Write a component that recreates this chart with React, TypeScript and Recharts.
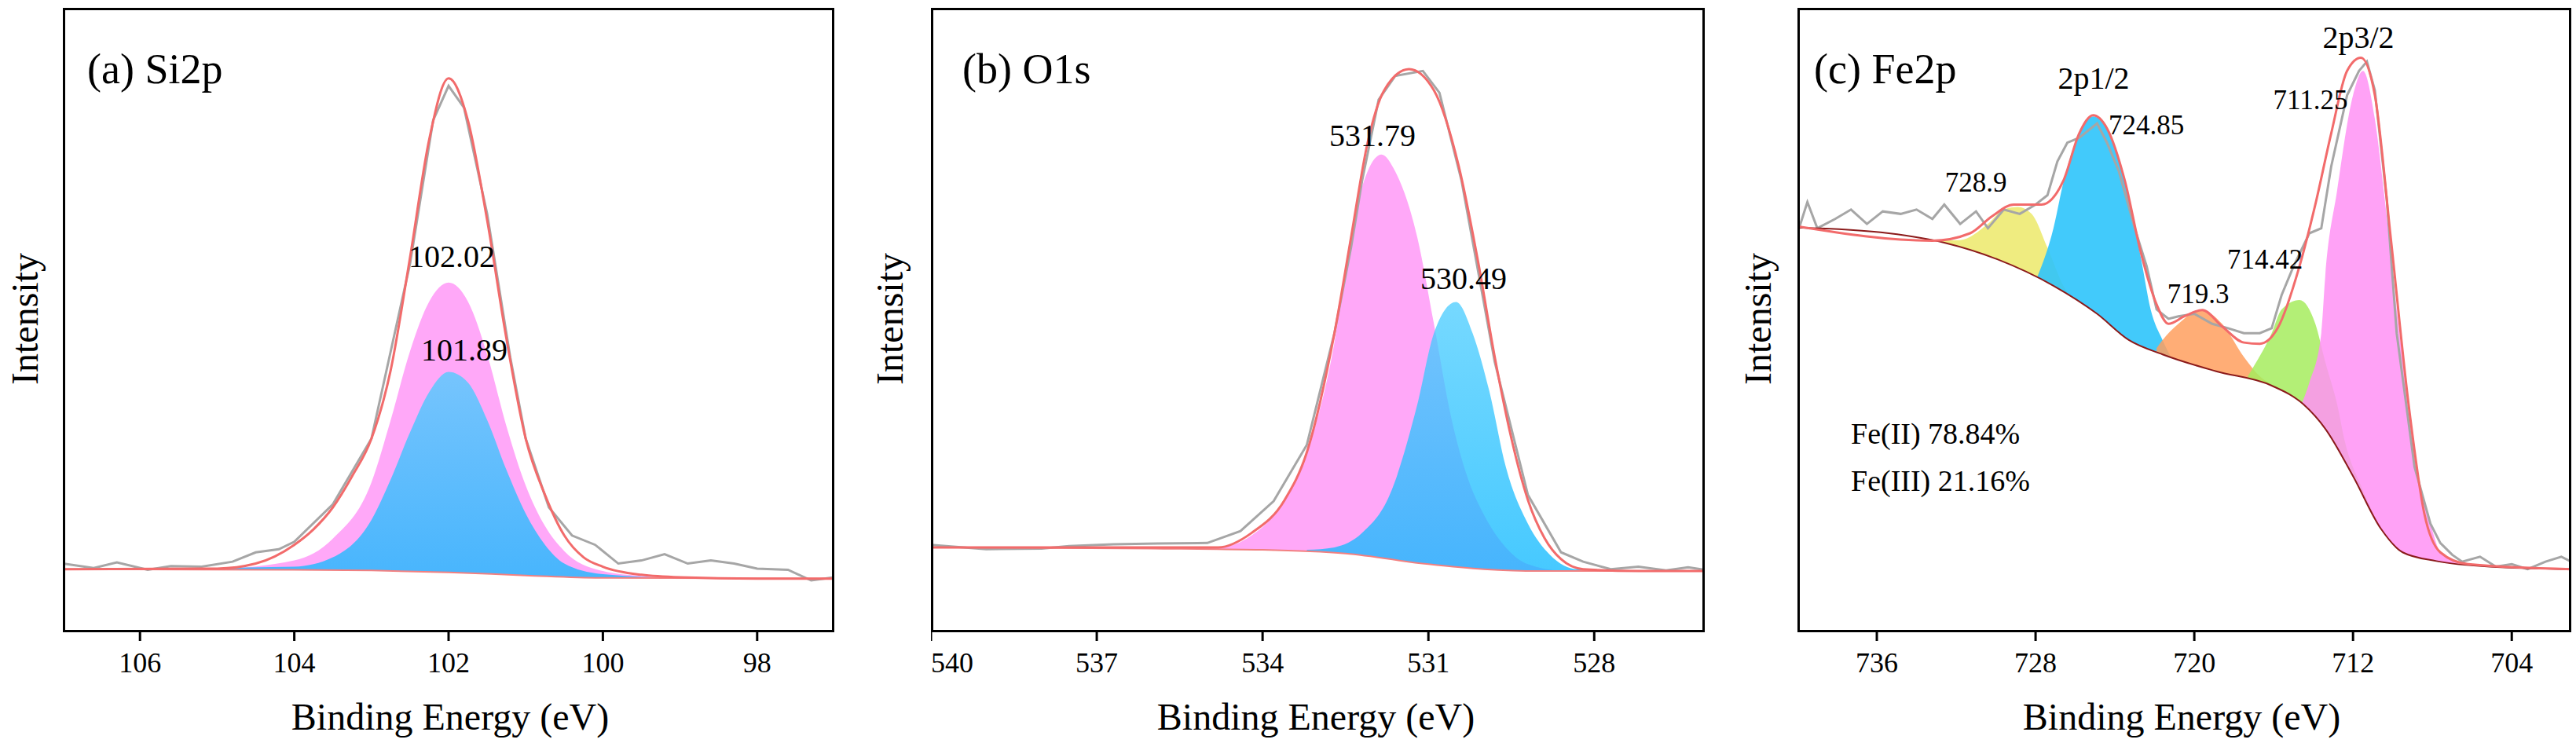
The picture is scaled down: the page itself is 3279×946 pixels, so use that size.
import { Area, ComposedChart, Line, XAxis, YAxis } from "recharts";

type Pt = { x: number; y: number };
const pts = (rows: number[][]): Pt[] => rows.map(([x, y]) => ({ x, y }));

// ---- (a) Si2p ----
const siBackground = pts([[107, 10.1], [104, 10.0], [103, 9.9], [102, 9.6], [101, 9.1], [100, 8.7], [97, 8.6]]);
const siEnvelope = pts([
  [107, 10.1], [105, 10.2], [104.5, 11], [104, 14], [103.75, 16.5], [103.5, 20], [103.25, 25], [103, 31],
  [102.75, 42], [102.5, 60], [102.25, 79], [102, 88.7], [101.75, 82], [101.5, 66], [101.25, 47], [101, 31],
  [100.75, 22], [100.5, 15.5], [100.25, 12], [100, 10.5], [99.5, 9.2], [99, 8.8], [98, 8.6], [97, 8.6],
]);
const siPink = pts([
  [107, 10.1], [105, 10.2], [104, 11.5], [103.5, 15], [103, 24], [102.75, 34], [102.5, 45], [102.25, 53],
  [102, 56], [101.75, 53], [101.5, 44.5], [101.25, 33], [101, 23.5], [100.75, 17], [100.5, 13], [100, 9.8],
  [99.5, 9], [99, 8.7], [97, 8.6],
]);
const siBlue = pts([
  [107, 10.1], [104, 10.5], [103.5, 12], [103, 18], [102.75, 24.5], [102.5, 32], [102.25, 38.5], [102, 41.7],
  [101.75, 40], [101.5, 34], [101.25, 26], [101, 19], [100.75, 14], [100.5, 11], [100, 9.3], [99, 8.7], [97, 8.6],
]);
const siRaw = pts([
  [107, 11.0], [106.6, 10.3], [106.3, 11.2], [105.9, 10.0], [105.6, 10.6], [105.2, 10.5], [104.8, 11.3],
  [104.5, 12.8], [104.2, 13.3], [104, 14.5], [103.5, 20.5], [103, 31], [102.5, 59], [102.2, 82], [102, 87.5],
  [101.8, 84], [101.5, 67], [101.2, 44], [101, 31], [100.7, 20], [100.4, 15.5], [100.1, 14], [99.8, 11],
  [99.5, 11.5], [99.2, 12.5], [98.9, 11], [98.6, 11.5], [98.3, 11], [98, 10.2], [97.6, 10], [97.3, 8.3], [97, 8.8],
]);
const siTicks = [98, 100, 102, 104, 106];

// ---- (b) O1s ----
const oBackground = pts([[540, 13.6], [536, 13.4], [534, 13.2], [532.5, 12.6], [531, 10.9], [530, 10.1], [529, 9.8], [526, 9.8]]);
const oEnvelope = pts([
  [540, 13.6], [534.8, 13.6], [534.2, 15.9], [533.6, 21.2], [533.2, 28.8], [532.7, 47.9], [532.4, 63.2],
  [532.1, 78.4], [531.8, 86.8], [531.35, 90.2], [530.9, 86.8], [530.45, 74.6], [530.1, 59.3], [529.8, 44.1],
  [529.5, 31.1], [529.2, 21.2], [528.9, 15.1], [528.6, 11.7], [528.2, 10.1], [527.2, 9.8], [526, 9.8],
]);
const oPink = pts([
  [540, 13.6], [534.8, 13.6], [534.2, 15.5], [533.6, 21.2], [533.2, 28.8], [532.7, 46.4], [532.4, 63.9],
  [532.1, 73.8], [531.85, 76.5], [531.6, 73.8], [531.2, 63.2], [530.9, 49.4], [530.6, 34.9], [530.3, 25],
  [530, 18.9], [529.6, 13.6], [529.2, 10.9], [528.6, 9.9], [526, 9.8],
]);
const oBlue = pts([
  [533.2, 13.2], [532.7, 13.6], [532.2, 15.9], [531.7, 22], [531.2, 36.5], [530.9, 47.9], [530.5, 52.9],
  [530.2, 47.9], [529.9, 38.7], [529.6, 26.5], [529.2, 17.4], [528.8, 12.4], [528.3, 10.1], [526, 9.8],
]);
const oRaw = pts([
  [540, 14], [539, 13.3], [538, 13.4], [537.5, 13.8], [536.7, 14.1], [535.9, 14.2], [535, 14.3], [534.4, 16.2],
  [533.8, 21], [533.2, 30], [532.7, 47.9], [532.4, 61.6], [532.2, 72.3], [531.9, 85.3], [531.6, 89.1],
  [531.1, 89.9], [530.8, 86.4], [530.4, 72.3], [529.8, 43.3], [529.2, 22], [528.6, 12.8], [528.2, 11.3],
  [527.7, 10.1], [527.2, 10.5], [526.7, 9.9], [526.3, 10.4], [526, 10],
]);
const oTicks = [528, 531, 534, 537, 540];

// ---- (c) Fe2p ----
const feBackground = pts([
  [740, 64.8], [735.4, 63.9], [732.6, 62.4], [729.9, 59.7], [727.1, 55.5], [724.9, 51], [723.3, 46.8],
  [721.6, 44.5], [718.9, 41.8], [716.1, 39.5], [714.5, 36.5], [713.4, 32.6], [712, 25], [710.6, 16.6],
  [709.5, 12.8], [707.8, 11.4], [705.1, 10.5], [701, 10.1],
]);
const feEnvelope = pts([
  [740, 65], [733.2, 62.7], [731.3, 63.9], [730.2, 66.6], [729.1, 68.5], [727.7, 68.5], [726.6, 72.3],
  [725.8, 79.9], [725.1, 82.8], [724.4, 80.7], [723.5, 72.3], [722.7, 60.9], [721.9, 52.5], [721.3, 49.4],
  [720.5, 50.6], [719.6, 51.6], [718.6, 49], [717.5, 46.4], [716.7, 46.2], [715.8, 48.7], [714.7, 58.6],
  [713.9, 68.5], [713.1, 79.9], [712.3, 89.9], [711.6, 92], [710.9, 86], [710.1, 63.2], [709.2, 36.5],
  [708.4, 18.9], [707.6, 12.8], [706.2, 10.9], [701, 10.1],
]);
const feYellow = pts([[733.2, 62.7], [731.8, 62.8], [730.4, 65.4], [729.6, 67.7], [728.9, 68.1], [728.2, 67], [727.4, 61.6], [726.6, 55.5], [725.3, 51.5]]);
const feBlue = pts([[727.9, 57], [727.1, 64.7], [726.6, 72], [726, 78.4], [725.1, 82.6], [724.4, 80.7], [723.5, 72.3], [722.7, 60.1], [722.2, 51.7], [721.6, 46.8], [721.2, 44.2]]);
const feOrange = pts([[721.9, 45.5], [721.6, 46.8], [720.8, 49.4], [719.7, 51.6], [718.6, 49.4], [717.5, 44.1], [716.7, 41], [716, 39.5]]);
const feGreen = pts([[717.3, 41], [717, 42.6], [716.1, 47.9], [715.6, 51.7], [714.7, 53.2], [713.9, 49.4], [713.4, 43.3], [712.8, 36.5], [712.4, 30.4], [711.6, 23.5], [710.6, 16.6]]);
const fePink = pts([
  [714.6, 36.5], [714.2, 40], [713.6, 47.9], [713.4, 57], [712.8, 70.8], [712, 86], [711.5, 89.9], [710.9, 82.2],
  [710.4, 69.3], [709.8, 51.7], [709.2, 36.5], [708.7, 25], [708.1, 17.4], [707.6, 12.8], [707.1, 11.7], [705, 10.5], [701, 10.1],
]);
const feRaw = pts([
  [740, 63.9], [739.5, 68.9], [739, 64.7], [738.1, 66.2], [737.3, 67.7], [736.5, 65.4], [735.7, 67.4], [734.8, 67],
  [734, 67.7], [733.2, 66.2], [732.6, 68.5], [731.8, 65.4], [731, 67.4], [730.4, 64.7], [729.6, 67.7], [728.8, 67],
  [728, 68.5], [727.4, 70], [726.9, 75.4], [726.4, 78.4], [725.8, 79.2], [724.9, 81.5], [724.4, 78.4], [723.8, 73.8],
  [723, 64.7], [722.4, 58.6], [721.9, 51.7], [721.3, 50.2], [720.8, 50.6], [720, 51], [719.1, 49.4], [718.3, 48.7],
  [717.5, 47.9], [716.7, 47.9], [716.1, 48.7], [715.6, 54], [715, 58.6], [714.2, 63.9], [713.6, 64.7], [713.1, 74.6],
  [712.3, 86], [711.7, 89.9], [711.3, 91.4], [710.9, 86.8], [710.3, 69.3], [709.8, 47.9], [708.9, 26.5], [708.1, 17.4],
  [707.6, 14.3], [707, 12.4], [706.5, 11.3], [705.6, 12.1], [704.8, 10.5], [704, 10.9], [703.2, 10.1], [702.3, 11.3],
  [701.5, 12.1], [701, 11.3],
]);
const feTicks = [704, 712, 720, 728, 736];

type Comp = { data: Pt[]; fill: string; opacity?: number };
type PanelProps = {
  left: number;
  width: number;
  domain: [number, number];
  ticks: number[];
  comps: Comp[];
  background: Pt[];
  envelope: Pt[];
  raw: Pt[];
  bgColor: string;
};

const FONT = "Liberation Serif, Times New Roman, DejaVu Serif, serif";
const TOP = 10;
const BOTTOM = 805;

function Panel({ left, width, domain, ticks, comps, background, envelope, raw, bgColor }: PanelProps) {
  return (
    <div style={{ position: "absolute", left, top: TOP }}>
      <ComposedChart width={width} height={946 - TOP} margin={{ top: 0, right: 0, bottom: 0, left: 0 }}>
        <defs>
          <linearGradient id={`blue${left}`} x1="0" y1="0" x2="0" y2="1">
            <stop offset="0%" stopColor="#4ccdff" stopOpacity={0.9} />
            <stop offset="100%" stopColor="#00b4ff" stopOpacity={0.9} />
          </linearGradient>
        </defs>
        <XAxis
          type="number"
          dataKey="x"
          domain={domain}
          ticks={ticks}
          reversed
          allowDataOverflow
          axisLine={false}
          tickSize={11}
          tickMargin={14}
          height={141}
          tick={{ fontSize: 36, fill: "#000", fontFamily: FONT }}
          tickLine={{ stroke: "#000", strokeWidth: 3 }}
        />
        <YAxis type="number" domain={[0, 100]} hide width={0} />
        {comps.map((c, i) => (
          <Area
            key={i}
            data={c.data}
            dataKey="y"
            type="monotone"
            baseValue={0}
            stroke="none"
            fill={c.fill === "blue" ? `url(#blue${left})` : c.fill}
            fillOpacity={c.opacity ?? 1}
            isAnimationActive={false}
          />
        ))}
        <Area data={background} dataKey="y" type="monotone" baseValue={0} stroke="none" fill="#fff" fillOpacity={1} isAnimationActive={false} />
        <Line data={raw} dataKey="y" type="linear" stroke="#a6a6a6" strokeWidth={3} dot={false} isAnimationActive={false} />
        <Line data={background} dataKey="y" type="monotone" stroke={bgColor} strokeWidth={2} dot={false} isAnimationActive={false} />
        <Line data={envelope} dataKey="y" type="monotone" stroke="#f26b6b" strokeWidth={3} dot={false} isAnimationActive={false} />
      </ComposedChart>
      <div
        style={{
          position: "absolute",
          left: 0,
          top: 0,
          width: width - 6,
          height: BOTTOM - TOP - 6,
          border: "3px solid #000",
          pointerEvents: "none",
        }}
      />
    </div>
  );
}

type TextProps = { x: number; y: number; size: number; children: string; anchor?: "left" | "center"; rotate?: boolean };
function T({ x, y, size, children, anchor = "center", rotate }: TextProps) {
  return (
    <div
      style={{
        position: "absolute",
        left: x,
        top: y,
        fontSize: size,
        fontFamily: FONT,
        color: "#000",
        whiteSpace: "nowrap",
        lineHeight: 1,
        transform: `${anchor === "center" ? "translate(-50%, -50%)" : "translate(0, -50%)"}${rotate ? " rotate(-90deg)" : ""}`,
      }}
    >
      {children}
    </div>
  );
}

export default function App() {
  return (
    <div style={{ position: "absolute", left: 0, top: 0, width: 3279, height: 946, background: "#fff", overflow: "hidden" }}>
      <Panel
        left={80}
        width={982}
        domain={[97, 107]}
        ticks={siTicks}
        comps={[
          { data: siPink, fill: "#ffa8f8" },
          { data: siBlue, fill: "blue", opacity: 0.85 },
        ]}
        background={siBackground}
        envelope={siEnvelope}
        raw={siRaw}
        bgColor="#f28080"
      />
      <Panel
        left={1185}
        width={985}
        domain={[526, 540]}
        ticks={oTicks}
        comps={[
          { data: oPink, fill: "#ffa8f8" },
          { data: oBlue, fill: "blue", opacity: 0.85 },
        ]}
        background={oBackground}
        envelope={oEnvelope}
        raw={oRaw}
        bgColor="#f28080"
      />
      <Panel
        left={2288}
        width={985}
        domain={[701, 740]}
        ticks={feTicks}
        comps={[
          { data: feYellow, fill: "#ece96a", opacity: 0.85 },
          { data: feBlue, fill: "#2ec4fb", opacity: 0.9 },
          { data: feOrange, fill: "#ff9f5e", opacity: 0.85 },
          { data: feGreen, fill: "#a6ec5e", opacity: 0.85 },
          { data: fePink, fill: "#ff92f4", opacity: 0.85 },
        ]}
        background={feBackground}
        envelope={feEnvelope}
        raw={feRaw}
        bgColor="#8b1a1a"
      />

      <T x={111} y={88} size={54} anchor="left">(a) Si2p</T>
      <T x={575} y={327} size={40}>102.02</T>
      <T x={591} y={446} size={40}>101.89</T>
      <T x={1225} y={88} size={54} anchor="left">(b) O1s</T>
      <T x={1747} y={173} size={40}>531.79</T>
      <T x={1863} y={355} size={40}>530.49</T>
      <T x={2309} y={88} size={54} anchor="left">(c) Fe2p</T>
      <T x={2665} y={100} size={40}>2p1/2</T>
      <T x={3002} y={48} size={40}>2p3/2</T>
      <T x={2732} y={159} size={35}>724.85</T>
      <T x={2515} y={232} size={35}>728.9</T>
      <T x={2941} y={127} size={35}>711.25</T>
      <T x={2798} y={374} size={35}>719.3</T>
      <T x={2883} y={330} size={35}>714.42</T>
      <T x={2356} y={552} size={38} anchor="left">Fe(II) 78.84%</T>
      <T x={2356} y={612} size={38} anchor="left">Fe(III) 21.16%</T>

      <T x={32} y={406} size={48} rotate>Intensity</T>
      <T x={1133} y={406} size={48} rotate>Intensity</T>
      <T x={2238} y={406} size={48} rotate>Intensity</T>
      <T x={573} y={913} size={48}>Binding Energy (eV)</T>
      <T x={1675} y={913} size={48}>Binding Energy (eV)</T>
      <T x={2777} y={913} size={48}>Binding Energy (eV)</T>
    </div>
  );
}
